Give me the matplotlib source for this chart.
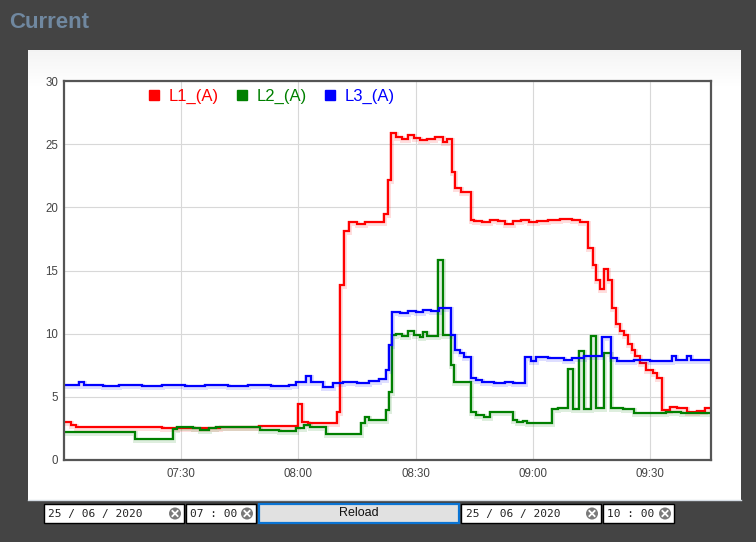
import matplotlib
matplotlib.use("Agg")
import matplotlib.pyplot as plt
import matplotlib.patheffects as pe
from matplotlib.patches import Rectangle, Circle
from matplotlib.lines import Line2D
import numpy as np

# ---------------- data (minutes after 07:00) ----------------
title = "Current"
series_names = ["L1_(A)", "L2_(A)", "L3_(A)"]
series_colors = ["#ff0000", "#008000", "#0000ff"]

l1_t = [0, 1.7, 3, 15, 25, 40, 50, 59.8, 60.9, 62.5, 69.9, 70.7, 71.6, 72.9, 75, 77,
        81.9, 83, 83.7, 85, 86.5, 88, 89.5, 91, 93, 95, 97, 98, 99.2, 100, 101.5,
        104.1, 105, 107, 109, 111, 113, 115, 117, 119, 121, 124, 127, 130, 132,
        134.0, 135.4, 136.2, 137.1, 138.2, 139.3, 140.3, 141.3, 142.2, 143.4, 144.3,
        145.3, 146.2, 147.4, 149, 150.7, 151.9, 153.0, 155, 157, 159.5, 162, 164, 165.6]
l1_v = [2.98, 2.77, 2.64, 2.6, 2.57, 2.62, 2.7, 4.4, 3.0, 2.9, 3.8, 13.85, 18.1, 18.8, 18.7, 18.8,
        19.5, 22.2, 25.9, 25.6, 25.4, 25.7, 25.5, 25.3, 25.4, 25.6, 25.2, 25.4, 22.8, 21.5, 21.2,
        19.0, 18.9, 18.8, 19.0, 18.9, 18.7, 18.9, 19.0, 18.8, 18.9, 19.0, 19.1, 19.0, 18.8,
        16.8, 15.4, 14.25, 13.5, 15.1, 14.25, 12.0, 10.8, 10.2, 9.9, 9.2,
        8.7, 8.2, 7.65, 7.1, 6.86, 6.47, 3.96, 4.2, 4.1, 3.8, 3.9, 4.1, 4.1]

l2_t = [0, 4, 18.1, 28, 29, 33, 34.8, 37, 39, 50.1, 55, 59.5, 61.5, 63, 67.0,
        75.9, 77, 78, 82.3, 83.1, 84, 85, 86.5, 88, 89.5, 91, 92, 93, 95.6, 97, 99, 99.9,
        104.1, 105.5, 107.5, 109, 114.8, 116, 117.5, 118.5, 120, 125, 126.5, 128.9, 130.2,
        131.9, 133.2, 134.9, 136.2, 138.1, 140, 143, 146, 150, 154, 158, 162, 165.6]
l2_v = [2.24, 2.2, 1.64, 2.43, 2.64, 2.55, 2.38, 2.5, 2.64, 2.38, 2.3, 2.55, 2.75, 2.6, 2.06,
        2.9, 3.43, 3.17, 3.96, 5.4, 9.9, 10.0, 9.8, 10.2, 9.9, 9.7, 10.1, 9.8, 15.8, 9.9, 7.5, 6.2,
        3.83, 3.56, 3.43, 3.83, 3.17, 3.03, 3.1, 2.95, 2.9, 4.0, 4.15, 7.2, 4.0,
        8.6, 4.0, 9.8, 4.1, 8.45, 4.1, 4.0, 3.75, 3.7, 3.8, 3.7, 3.75, 3.75]

l3_t = [0, 3.9, 5, 10, 14, 20, 25, 31, 36, 42, 47, 53, 57.5, 59.4, 61.9, 63.2, 66.2, 68.8,
        71.3, 75, 78, 80.7, 82.3, 83.1, 84, 86, 88, 90, 92, 94, 96, 99, 100, 101.3, 102.4,
        104.1, 105.5, 107, 110, 113, 115, 117.9, 119.5, 120.7, 124, 128, 130, 133, 137.8,
        140, 141.5, 146, 150, 155.6, 156.6, 159.5, 160.5, 165.6]
l3_v = [5.92, 6.17, 5.92, 5.88, 5.92, 5.88, 5.92, 5.88, 5.92, 5.88, 5.92, 5.88, 5.92, 6.2, 6.65, 6.2, 5.8, 6.07,
        6.2, 6.1, 6.25, 6.39, 7.1, 9.1, 11.75, 11.6, 11.8, 11.7, 11.9, 11.8, 12.0, 9.9, 8.7, 8.45, 8.18,
        6.47, 6.33, 6.2, 6.1, 6.2, 6.1, 8.13, 7.86, 8.18, 8.1, 7.9, 8.1, 8.2, 9.76,
        8.05, 7.86, 7.95, 7.86, 8.2, 7.9, 8.2, 7.9, 7.9]

x_ticks = [30, 60, 90, 120, 150]
x_tick_labels = ["07:30", "08:00", "08:30", "09:00", "09:30"]
y_ticks = [0, 5, 10, 15, 20, 25, 30]
x_range = (0, 165.6)
y_range = (0, 30)

date_from = "25 / 06 / 2020"
time_from = "07 : 00"
date_to = "25 / 06 / 2020"
time_to = "10 : 00"
button_label = "Reload"

# ---------------- figure ----------------
W, H = 756, 542
fig = plt.figure(figsize=(W / 100, H / 100), dpi=100)
fig.patch.set_facecolor("#444444")

bg = fig.add_axes([0, 0, 1, 1])
bg.set_xlim(0, W)
bg.set_ylim(H, 0)
bg.axis("off")
bg.set_zorder(0)

bg.text(9, 22, title, fontsize=16, fontweight="bold", color="#7088a0",
        family="Liberation Sans", va="center", ha="left")

# white panel with subtle top gradient
grad = np.linspace(0.955, 1.0, 40).reshape(-1, 1)
bg.add_patch(Rectangle((28, 50), 713, 450, facecolor="white", edgecolor="none"))
bg.imshow(np.repeat(grad, 2, axis=1), cmap="gray", vmin=0, vmax=1,
          extent=[28, 741, 90, 50], aspect="auto", zorder=1)
bg.plot([28, 741], [500, 500], color="#d6dde4", lw=1, zorder=2)
bg.set_xlim(0, W)
bg.set_ylim(H, 0)

# bottom controls
def input_box(x0, x1, text, icon_x, text_x):
    bg.add_patch(Rectangle((x0, 504), x1 - x0, 19, facecolor="white",
                           edgecolor="black", lw=1, zorder=3))
    bg.text(text_x, 514, text, fontsize=8, family="DejaVu Sans Mono",
            color="#222222", va="center", ha="left", zorder=4)
    bg.add_patch(Circle((icon_x, 513.5), 6, facecolor="#7a7a7a",
                        edgecolor="none", zorder=4))
    d = 2.6
    bg.plot([icon_x - d, icon_x + d], [513.5 - d, 513.5 + d], color="white", lw=1.3, zorder=5)
    bg.plot([icon_x - d, icon_x + d], [513.5 + d, 513.5 - d], color="white", lw=1.3, zorder=5)

input_box(44, 184, date_from, 175, 48)
input_box(186, 256, time_from, 247, 190)
bg.add_patch(Rectangle((259, 504), 200, 19, facecolor="#e1e1e1",
                       edgecolor="#0a74d4", lw=1.6, zorder=3))
bg.text(359, 513.5, button_label, fontsize=9, family="Liberation Sans",
        color="#111111", va="center", ha="center", zorder=4)
input_box(461, 601, date_to, 592, 466)
input_box(603, 674, time_to, 665, 607)

# ---------------- chart ----------------
L, R, T, B = 64, 711, 81, 460
ax = fig.add_axes([L / W, 1 - B / H, (R - L) / W, (B - T) / H])
ax.set_zorder(2)
ax.set_facecolor("white")

for t, v, c, name in zip([l1_t, l2_t, l3_t], [l1_v, l2_v, l3_v], series_colors, series_names):
    ax.plot(t, v, drawstyle="steps-post", color=c, lw=1.6, label=name,
            solid_joinstyle="miter",
            path_effects=[pe.SimpleLineShadow(offset=(0, -0.7), shadow_color=c, alpha=0.13, linewidth=3.6),
                          pe.Normal()])

ax.set_xlim(*x_range)
ax.set_ylim(*y_range)
ax.set_xticks(x_ticks)
ax.set_xticklabels(x_tick_labels)
ax.set_yticks(y_ticks)
ax.set_yticklabels([str(v) for v in y_ticks])
ax.tick_params(length=0, labelsize=8.3, labelcolor="#444444")
ax.tick_params(axis="x", pad=6)
ax.tick_params(axis="y", pad=4)
for lab in ax.get_xticklabels() + ax.get_yticklabels():
    lab.set_family("Liberation Sans")
ax.grid(True, color="#d8d8d8", lw=0.8)
ax.set_axisbelow(True)
for s in ax.spines.values():
    s.set_color("#555555")
    s.set_linewidth(1.6)

handles = [Line2D([], [], marker="s", linestyle="none", markersize=7.2,
                  markerfacecolor=c, markeredgecolor=c) for c in series_colors]
leg = ax.legend(handles, series_names, loc="center left", ncol=3, frameon=False,
                bbox_to_anchor=((147 - L) / (R - L), 1 - (96 - T) / (B - T)),
                handlelength=0.8, handletextpad=0.5, columnspacing=0.98,
                borderaxespad=0, borderpad=0,
                prop={"family": "Liberation Sans", "size": 12})
for txt, c in zip(leg.get_texts(), series_colors):
    txt.set_color(c)

fig.savefig("out.png", dpi=100, facecolor=fig.get_facecolor())
